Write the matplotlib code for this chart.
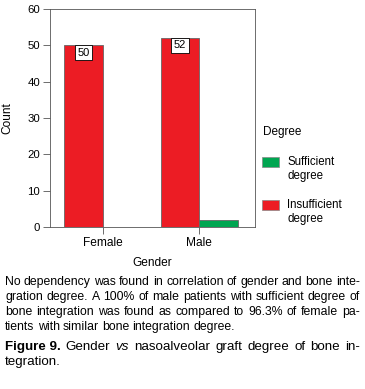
import matplotlib
matplotlib.use('Agg')
import matplotlib.pyplot as plt
import numpy as np

genders = ['Female', 'Male']
insufficient = [50, 52]
sufficient = [0, 2]
yticks = [0, 10, 20, 30, 40, 50, 60]

RED = '#ec1c24'
GREEN = '#00a651'
W, H = 365, 389

plt.rcParams['font.family'] = ['Liberation Sans', 'DejaVu Sans']

fig = plt.figure(figsize=(W / 100, H / 100), dpi=100)


def fx(px):
    return px / W


def fy(py):
    return 1 - py / H


ax = fig.add_axes([fx(50), fy(227), fx(205), (227 - 9) / H])
x = np.arange(len(genders))
bw = 0.4
ax.bar(x, insufficient, bw, align='edge', color=RED, edgecolor='#666666',
       linewidth=0.6, zorder=2)
ax.bar(x + bw, sufficient, bw, align='edge', color=GREEN, edgecolor='#666666',
       linewidth=0.6, zorder=2)
for xi, v in zip(x, insufficient):
    ax.text(xi + bw / 2, v - 2.0, str(v), ha='center', va='center', fontsize=8,
            bbox=dict(boxstyle='square,pad=0.22', fc='white', ec='black', lw=0.6),
            zorder=3)

ax.set_xlim(-0.15, 1.98)
ax.set_ylim(0, 60)
ax.set_yticks(yticks)
ax.set_xticks(x + bw)
ax.set_xticklabels(genders)
ax.tick_params(axis='y', labelsize=8.2, length=5, width=0.6, color='#555555', pad=2)
ax.tick_params(axis='x', labelsize=8.6, length=5, width=0.6, color='#555555', pad=2)
for s in ax.spines.values():
    s.set_linewidth(0.6)
    s.set_color('#555555')
ax.set_xlabel('Gender', fontsize=8.6, labelpad=6)
ax.set_ylabel('Count', fontsize=8.6, labelpad=10)

# legend
fig.text(fx(263), fy(132), 'Degree', fontsize=8.5, va='center')
for py, color, label in [(162, GREEN, 'Sufficient\ndegree'),
                         (205, RED, 'Insufficient\ndegree')]:
    fig.patches.append(plt.Rectangle((fx(262), fy(py + 5)), fx(17), 10 / H,
                                     transform=fig.transFigure, fc=color,
                                     ec='#888888', lw=0.5))
    fig.text(fx(287), fy(py + 7), label, fontsize=8.3, va='center',
             linespacing=1.2)

# caption
paragraph = [
    'No dependency was found in correlation of gender and bone inte-',
    'gration degree. A 100% of male patients with sufficient degree of',
    'bone integration was found as compared to 96.3% of female pa-',
    'tients with similar bone integration degree.',
]
renderer = fig.canvas.get_renderer()


def justified(line, py, size, last=False, left=5, right=360):
    words = line.split(' ')
    texts = [fig.text(0, fy(py), w, fontsize=size, va='center') for w in words]
    widths = [t.get_window_extent(renderer).width for t in texts]
    space = 3.2 if last else (right - left - sum(widths)) / (len(words) - 1)
    pos = left
    for t, w in zip(texts, widths):
        t.set_x(fx(pos))
        pos += w + space


for i, line in enumerate(paragraph):
    justified(line, 282 + i * 15, 8.8, last=(i == len(paragraph) - 1))

# figure title
title = [('Figure 9.', 'bold', 'normal'), ('Gender', 'normal', 'normal'),
         ('vs', 'normal', 'italic'), ('nasoalveolar', 'normal', 'normal'),
         ('graft', 'normal', 'normal'), ('degree', 'normal', 'normal'),
         ('of', 'normal', 'normal'), ('bone', 'normal', 'normal'),
         ('in-', 'normal', 'normal')]
texts = [fig.text(0, fy(347), w, fontsize=9.6, fontweight=b, fontstyle=s,
                  va='center') for w, b, s in title]
widths = [t.get_window_extent(renderer).width for t in texts]
space = (360 - 5 - sum(widths)) / (len(texts) - 1)
pos = 5
for t, w in zip(texts, widths):
    t.set_x(fx(pos))
    pos += w + space
fig.text(fx(5), fy(362), 'tegration.', fontsize=9.6, va='center')

fig.savefig('out.png', dpi=100)
